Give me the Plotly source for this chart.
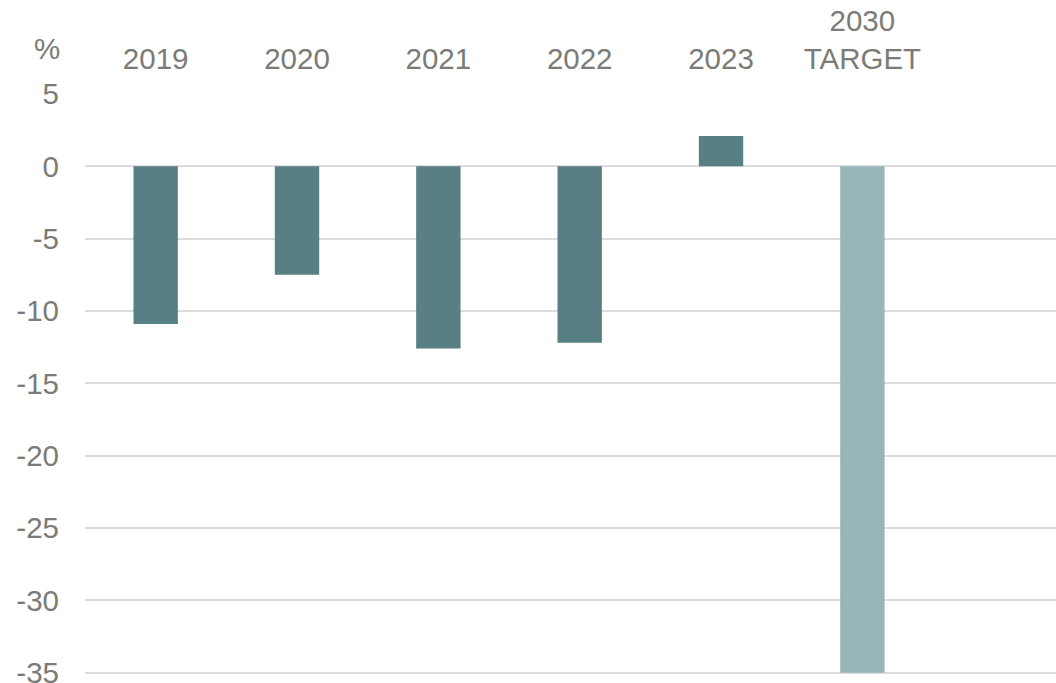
import plotly.graph_objects as go

categories = ["2019", "2020", "2021", "2022", "2023", "2030<br>TARGET"]
values = [-10.9, -7.5, -12.6, -12.2, 2.1, -35.0]
bar_colors = ["#577f84", "#577f84", "#577f84", "#577f84", "#577f84", "#98b5ba"]
y_ticks = [5, 0, -5, -10, -15, -20, -25, -30, -35]

FONT = "Liberation Sans, Arial, sans-serif"
TXT = "#7b7b77"
FS = 29.5

fig = go.Figure(
    go.Bar(
        x=categories,
        y=values,
        marker=dict(color=bar_colors, line=dict(width=0)),
        width=0.314,
        showlegend=False,
    )
)

fig.update_layout(
    width=1056,
    height=683,
    margin=dict(l=85, r=0, t=94, b=6),
    paper_bgcolor="white",
    plot_bgcolor="white",
    font=dict(family=FONT, size=FS, color=TXT),
    xaxis=dict(
        type="category",
        side="top",
        range=[-0.5, 6.37],
        showgrid=False,
        showline=False,
        zeroline=False,
        ticks="",
        automargin=False,
        ticklabelstandoff=18,
        tickfont=dict(family=FONT, size=FS, color=TXT),
    ),
    yaxis=dict(
        range=[-35.3, 5],
        tickvals=y_ticks,
        ticktext=[str(v) for v in y_ticks],
        showgrid=True,
        gridcolor="#dcdcdc",
        gridwidth=1.5,
        zeroline=True,
        zerolinecolor="#dcdcdc",
        zerolinewidth=1.5,
        showline=False,
        ticks="",
        automargin=False,
        ticklabelstandoff=25,
        ticklabeloverflow="allow",
        tickfont=dict(family=FONT, size=FS, color=TXT),
    ),
    annotations=[
        dict(
            text="%",
            xref="paper",
            yref="paper",
            x=-0.039,
            y=1.0,
            xanchor="center",
            yanchor="bottom",
            yshift=27,
            showarrow=False,
            font=dict(family=FONT, size=FS, color=TXT),
        )
    ],
)

fig.write_html("out.html")
